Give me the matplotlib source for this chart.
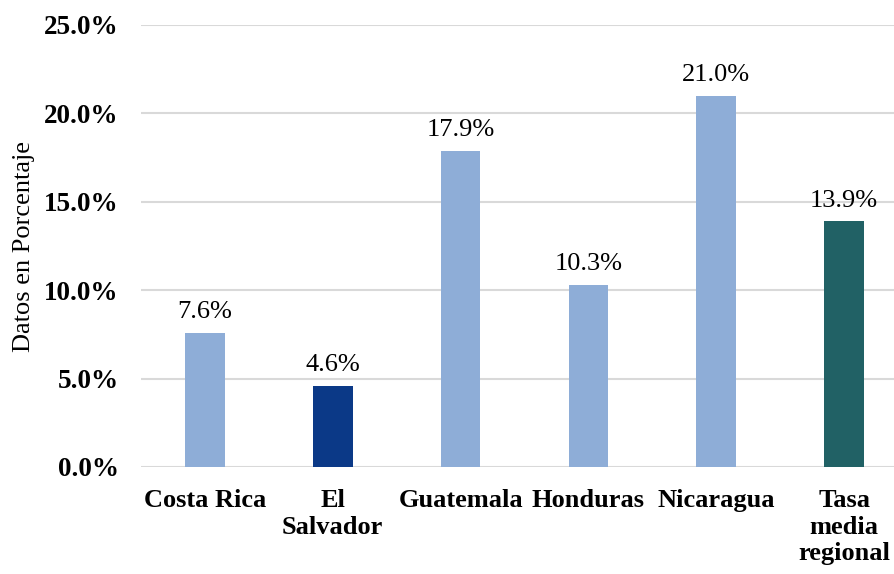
import matplotlib.pyplot as plt
from matplotlib.ticker import FuncFormatter

paises = ['Costa Rica', 'El\nSalvador', 'Guatemala', 'Honduras', 'Nicaragua', 'Tasa\nmedia\nregional']
valores = [7.6, 4.6, 17.9, 10.3, 21.0, 13.9]
colores = ['#8EADD7', '#0B3987', '#8EADD7', '#8EADD7', '#8EADD7', '#216165']

plt.rcParams['font.family'] = ['Liberation Serif', 'DejaVu Serif']

fig = plt.figure(figsize=(8.94, 5.74), dpi=100)
ax = fig.add_axes([141/894, 1 - 467/574, (894-141)/894, (467-25)/574])

x = range(len(paises))
ax.bar(x, valores, width=0.31, color=colores, zorder=3)
for xi, v in zip(x, valores):
    ax.text(xi, v + 0.55, f'{v:.1f}%', ha='center', va='bottom', fontsize=19)

ax.set_ylim(0, 25)
ax.set_xlim(-0.5, 5.39)
ax.set_yticks([0, 5, 10, 15, 20, 25])
ax.yaxis.set_major_formatter(FuncFormatter(lambda v, p: f'{v:.1f}%'))
ax.set_xticks(list(x))
ax.set_xticklabels(paises, fontweight='bold', fontsize=19, linespacing=1.2)
for t in ax.get_yticklabels():
    t.set_fontweight('bold')
    t.set_fontsize(19.5)
ax.tick_params(axis='x', length=0, pad=16)
ax.tick_params(axis='y', length=0, pad=16)
ax.grid(axis='y', color='#D9D9D9', linewidth=1.5, zorder=0)
for s in ax.spines.values():
    s.set_visible(False)
ax.set_ylabel('Datos en Porcentaje', fontsize=19)
ax.yaxis.set_label_coords((35 - 141) / 753, 0.5)

fig.savefig('out.png', dpi=100)
